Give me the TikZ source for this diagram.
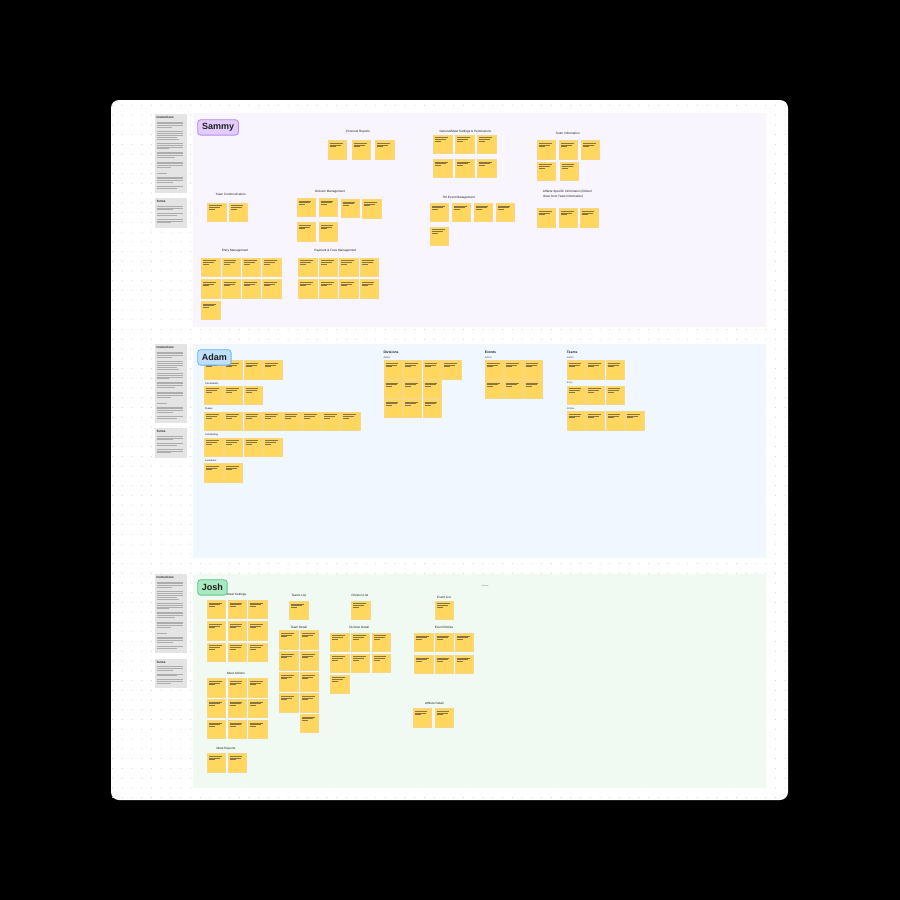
\documentclass[tikz,border=0pt]{standalone}
\usepackage{fontspec}
\setmainfont{Liberation Sans}
\definecolor{dotc}{HTML}{D2D2D2}
\definecolor{sammybg}{HTML}{F8F5FE}
\definecolor{adambg}{HTML}{F0F7FE}
\definecolor{joshbg}{HTML}{F0FAF3}
\definecolor{stickyfill}{HTML}{FFD65E}
\definecolor{stickyedge}{HTML}{F7D684}
\definecolor{panelfill}{HTML}{E4E4E4}
\definecolor{sammytag}{HTML}{E3CCFB}
\definecolor{sammyedge}{HTML}{B58CE9}
\definecolor{adamtag}{HTML}{BEE0FC}
\definecolor{adamedge}{HTML}{6CB2EE}
\definecolor{joshtag}{HTML}{A9E8C0}
\definecolor{joshedge}{HTML}{5DC78B}
\definecolor{inkc}{HTML}{1E1E1E}
\definecolor{notetextc}{HTML}{8A7440}
\tikzset{
  notetxt/.style={draw=notetextc, line width=0.3pt},
  paneltxt/.style={draw=black!32, line width=0.35pt},
  sticky/.style={draw=stickyedge, fill=stickyfill, line width=0.4pt,
    minimum width=18.3pt, minimum height=18.3pt, inner sep=0pt, anchor=north west,
    path picture={
      \draw[notetxt] ([shift={(1.8,2.6)}]path picture bounding box.north west) -- ++(12.5,0);
      \draw[notetxt] ([shift={(1.8,4.2)}]path picture bounding box.north west) -- ++(11,0);
      \draw[notetxt] ([shift={(1.8,5.8)}]path picture bounding box.north west) -- ++(6,0);
    }},
  lbl/.style={font=\fontsize{3.1}{3.6}\selectfont, text=inkc, inner sep=0pt},
  hdr/.style={font=\fontsize{3.4}{4}\selectfont\bfseries, text=inkc, inner sep=0pt, anchor=west},
  sublbl/.style={font=\fontsize{2.4}{3}\selectfont, text=black!70, inner sep=0pt, anchor=west},
  panel/.style={fill=panelfill, draw=none, minimum width=32.4pt, inner sep=0pt, anchor=north west},
  panelhead/.style={font=\fontsize{3}{3.5}\selectfont\bfseries, text=inkc, inner sep=0pt, anchor=west},
  tag/.style={rounded corners=3pt, line width=0.8pt, minimum height=15.4pt, inner sep=0pt,
    anchor=north west, font=\fontsize{9}{10}\selectfont\bfseries, text=inkc},
  section/.style={draw=none, inner sep=0pt, anchor=north west, minimum width=573pt, minimum height=214pt},
}
\newcommand\stk[3]{\node[sticky] (#1) at (#2,#3) {};}
\newcommand\instrpanel[2]{%
  \node[panel, minimum height=78.5pt] (#1) at (154.3,#2) {};
  \node[panelhead] at (156.5,{#2+3}) {Instructions};
  \foreach \dy/\len in {7.7/26,9.3/26,11/26,12.7/15,17.3/26,19/26,20.7/26,22.7/20,25.3/22,
      29.3/26,31/26,32.7/26,34.3/12,37.7/26,39.3/26,41/26,42.7/18,47.7/26,49.3/26,51/26,52.7/14,
      58.7/10,62.7/26,64.3/26,66/26,67.7/16,72/26,73.7/20}
    {\draw[paneltxt] (156.5,{#2+\dy}) -- ++(\len,0);}
}
\newcommand\termspanel[2]{%
  \node[panel, minimum height=29.6pt] (#1) at (154.3,#2) {};
  \node[panelhead] at (156.5,{#2+4}) {Terms};
  \foreach \dy/\len in {8.3/26,10/26,11.7/16,15.6/26,17.3/20,21.3/26,23/26,24.7/14}
    {\draw[paneltxt] (156.5,{#2+\dy}) -- ++(\len,0);}
}
\begin{document}
\begin{tikzpicture}[x=1pt,y=-1pt]
\fill[black] (0,0) rectangle (900,900);
\useasboundingbox (0,0) rectangle (900,900);
\fill[white, rounded corners=8pt] (111,100) rectangle (788,800);
\foreach \i in {0,...,69}{\foreach \j in {0,...,71}{\fill[dotc] ({112.55+\i*9.75},{105.3+\j*9.75}) circle[radius=0.6];}}

% sections
\node[section, fill=sammybg] (sammysec) at (193,113) {};
\node[section, fill=adambg] (adamsec) at (193,343.5) {};
\node[section, fill=joshbg, minimum height=213.5pt] (joshsec) at (193,574) {};

% panels
\instrpanel{sinstr}{114}
\termspanel{sterms}{197.7}
\instrpanel{ainstr}{344}
\termspanel{aterms}{427.7}
\instrpanel{jinstr}{574}
\termspanel{jterms}{658.3}

% ================= SAMMY =================
\node[lbl] (lpr) at (358,131.3) {Personal Reports};
\stk{pr1}{328}{140.3}\stk{pr2}{352}{140.3}\stk{pr3}{375.3}{140.3}

\node[lbl] (ltc) at (230.7,194.3) {Team Communication};
\stk{tc1}{207.3}{202.7}\stk{tc2}{228.7}{202.7}

\node[lbl] (ldm) at (330,192) {Division Management};
\stk{dm1}{296.7}{198}\stk{dm2}{318.7}{198}\stk{dm3}{340.7}{199}\stk{dm4}{362.3}{199.3}
\stk{dm5}{296.7}{222.3}\stk{dm6}{318.7}{222.3}

\node[lbl] (lem) at (235,250.3) {Entry Management};
\stk{em1}{201.3}{257.7}\stk{em2}{221.7}{257.7}\stk{em3}{242}{257.7}\stk{em4}{262.3}{257.7}
\stk{em5}{201.3}{279.3}\stk{em6}{221.7}{279.3}\stk{em7}{242}{279.3}\stk{em8}{262.3}{279.3}
\stk{em9}{201.3}{301}

\node[lbl] (lpf) at (335.3,250.3) {Payment \& Fees Management};
\stk{pf1}{298.3}{257.7}\stk{pf2}{319}{257.7}\stk{pf3}{339.3}{257.7}\stk{pf4}{359.7}{257.7}
\stk{pf5}{298.3}{279.3}\stk{pf6}{319}{279.3}\stk{pf7}{339.3}{279.3}\stk{pf8}{359.7}{279.3}

\node[lbl] (lgs) at (465.3,131.3) {General/Meet Settings \& Permissions};
\stk{gs1}{433.3}{134.7}\stk{gs2}{455.3}{134.7}\stk{gs3}{477.3}{134.7}
\stk{gs4}{433.3}{159}\stk{gs5}{455.3}{159}\stk{gs6}{477.3}{159}

\node[lbl] (lti) at (567.7,133) {Team Information};
\stk{ti1}{537}{140.3}\stk{ti2}{559}{140.3}\stk{ti3}{581}{140.3}
\stk{ti4}{537}{161.7}\stk{ti5}{559.7}{161.7}

\node[lbl, anchor=west] (las1) at (542.7,191.3) {Athlete Specific Information (limited};
\node[lbl, anchor=west] (las2) at (542.7,196.3) {down from Team information)};
\stk{as1}{537}{208.3}\stk{as2}{559}{208.3}\stk{as3}{579.7}{208.3}

\node[lbl] (ltm) at (458.7,197.3) {TM Event Management};
\stk{tm1}{430}{203}\stk{tm2}{452}{203}\stk{tm3}{473.7}{203}\stk{tm4}{495.7}{203}
\stk{tm5}{430}{226.7}

\node[tag, fill=sammytag, draw=sammyedge, minimum width=40.7pt] (sammytag) at (197.3,119.3) {Sammy};

% ================= ADAM =================
\stk{a01}{204.3}{360.3}\stk{a02}{224}{360.3}\stk{a03}{243.7}{360.3}\stk{a04}{263.3}{360.3}
\node[sublbl, font=\fontsize{2.4}{3}\selectfont\bfseries] (la1) at (205,383.3) {Constraints};
\stk{a11}{204.3}{385.7}\stk{a12}{224}{385.7}\stk{a13}{243.7}{385.7}
\node[sublbl, font=\fontsize{2.4}{3}\selectfont\bfseries] (la2) at (205,409) {Teams};
\stk{a21}{204.3}{411.7}\stk{a22}{224}{411.7}\stk{a23}{243.7}{411.7}\stk{a24}{263.3}{411.7}
\stk{a25}{282.7}{411.7}\stk{a26}{302.3}{411.7}\stk{a27}{322}{411.7}\stk{a28}{341.3}{411.7}
\node[sublbl, font=\fontsize{2.4}{3}\selectfont\bfseries] (la3) at (205,434.7) {Scheduling};
\stk{a31}{204.3}{437.7}\stk{a32}{224}{437.7}\stk{a33}{243.7}{437.7}\stk{a34}{263.3}{437.7}
\node[sublbl, font=\fontsize{2.4}{3}\selectfont\bfseries] (la4) at (205,460.3) {Locations};
\stk{a41}{204.3}{463.3}\stk{a42}{224}{463.3}

\node[hdr] (ldiv) at (383.3,352.3) {Divisions};
\node[sublbl] (ldivs) at (383.3,357.7) {Admin};
\stk{d1}{383.7}{360.3}\stk{d2}{403}{360.3}\stk{d3}{422.7}{360.3}\stk{d4}{442.3}{360.3}
\stk{d5}{383.7}{380}\stk{d6}{403}{380}\stk{d7}{422.7}{380}
\stk{d8}{383.7}{399}\stk{d9}{403}{399}\stk{d10}{422.7}{399}

\node[hdr] (lev) at (484.7,352.3) {Events};
\node[sublbl] (levs) at (484.7,357.7) {Admin};
\stk{e1}{485}{360.3}\stk{e2}{504.3}{360.3}\stk{e3}{523.7}{360.3}
\stk{e4}{485}{380}\stk{e5}{504.3}{380}\stk{e6}{523.7}{380}

\node[hdr] (lte) at (566.7,352.3) {Teams};
\node[sublbl] (ltes1) at (566.7,357.7) {Admin};
\stk{t1}{566.7}{360.3}\stk{t2}{586}{360.3}\stk{t3}{605.7}{360.3}
\node[sublbl] (ltes2) at (566.7,382.7) {Entry};
\stk{t4}{566.7}{385.7}\stk{t5}{586}{385.7}\stk{t6}{605.7}{385.7}
\node[sublbl] (ltes3) at (566.7,408.7) {Athlete};
\stk{t7}{566.7}{411.3}\stk{t8}{586}{411.3}\stk{t9}{605.7}{411.3}\stk{t10}{625.3}{411.3}

\node[tag, fill=adamtag, draw=adamedge, minimum width=33.4pt] (adamtag) at (197.3,349.3) {Adam};

% ================= JOSH =================
\node[lbl] (lms) at (236.7,594.3) {Meet Settings};
\stk{ms1}{207}{600}\stk{ms2}{227.7}{600}\stk{ms3}{248.3}{600}
\stk{ms4}{207}{621.3}\stk{ms5}{227.7}{621.3}\stk{ms6}{248.3}{621.3}
\stk{ms7}{207}{642.7}\stk{ms8}{227.7}{642.7}\stk{ms9}{248.3}{642.7}

\node[lbl] (lma) at (236,673) {Meet Actions};
\stk{ma1}{207}{678.3}\stk{ma2}{227.7}{678.3}\stk{ma3}{248.3}{678.3}
\stk{ma4}{207}{699}\stk{ma5}{227.7}{699}\stk{ma6}{248.3}{699}
\stk{ma7}{207}{720}\stk{ma8}{227.7}{720}\stk{ma9}{248.3}{720}

\node[lbl] (lmr) at (226,748.7) {Meet Reports};
\stk{mr1}{207}{753.3}\stk{mr2}{227.7}{753.3}

\node[lbl] (ltl) at (298.7,595.7) {Teams List};
\stk{tl1}{289.3}{601}

\node[lbl] (ltd) at (298.7,627.7) {Team Detail};
\stk{td1}{279.3}{630.3}\stk{td2}{279.3}{651.3}\stk{td3}{279.3}{672.3}\stk{td4}{279.3}{693.3}
\stk{td5}{300}{630.3}\stk{td6}{300}{651.3}\stk{td7}{300}{672.3}\stk{td8}{300}{693.3}\stk{td9}{300}{714}

\node[lbl] (ldl) at (360,595.7) {Division List};
\stk{dl1}{351.3}{600.7}

\node[lbl] (ldd) at (359.3,627.7) {Division Detail};
\stk{dd1}{330.3}{632.7}\stk{dd2}{351}{632.7}\stk{dd3}{371.7}{632.7}
\stk{dd4}{330.3}{653.7}\stk{dd5}{351}{653.7}\stk{dd6}{371.7}{653.7}
\stk{dd7}{330.3}{674.7}

\node[lbl, font=\fontsize{1.8}{2}\selectfont, text=black!60] (lsec) at (485,586) {Sections};

\node[lbl] (lel) at (444,597.3) {Event List};
\stk{el1}{435}{600.7}

\node[lbl] (lee) at (444,627.7) {Event Entries};
\stk{ee1}{414.3}{633}\stk{ee2}{434.7}{633}\stk{ee3}{455}{633}
\stk{ee4}{414.3}{655}\stk{ee5}{434.7}{655}\stk{ee6}{455}{655}

\node[lbl] (lad) at (434.3,703.3) {Athlete Detail};
\stk{ad1}{412.7}{708.3}\stk{ad2}{434.7}{708.3}

\node[tag, fill=joshtag, draw=joshedge, minimum width=29.4pt] (joshtag) at (197.3,579.3) {Josh};
\end{tikzpicture}
\end{document}
